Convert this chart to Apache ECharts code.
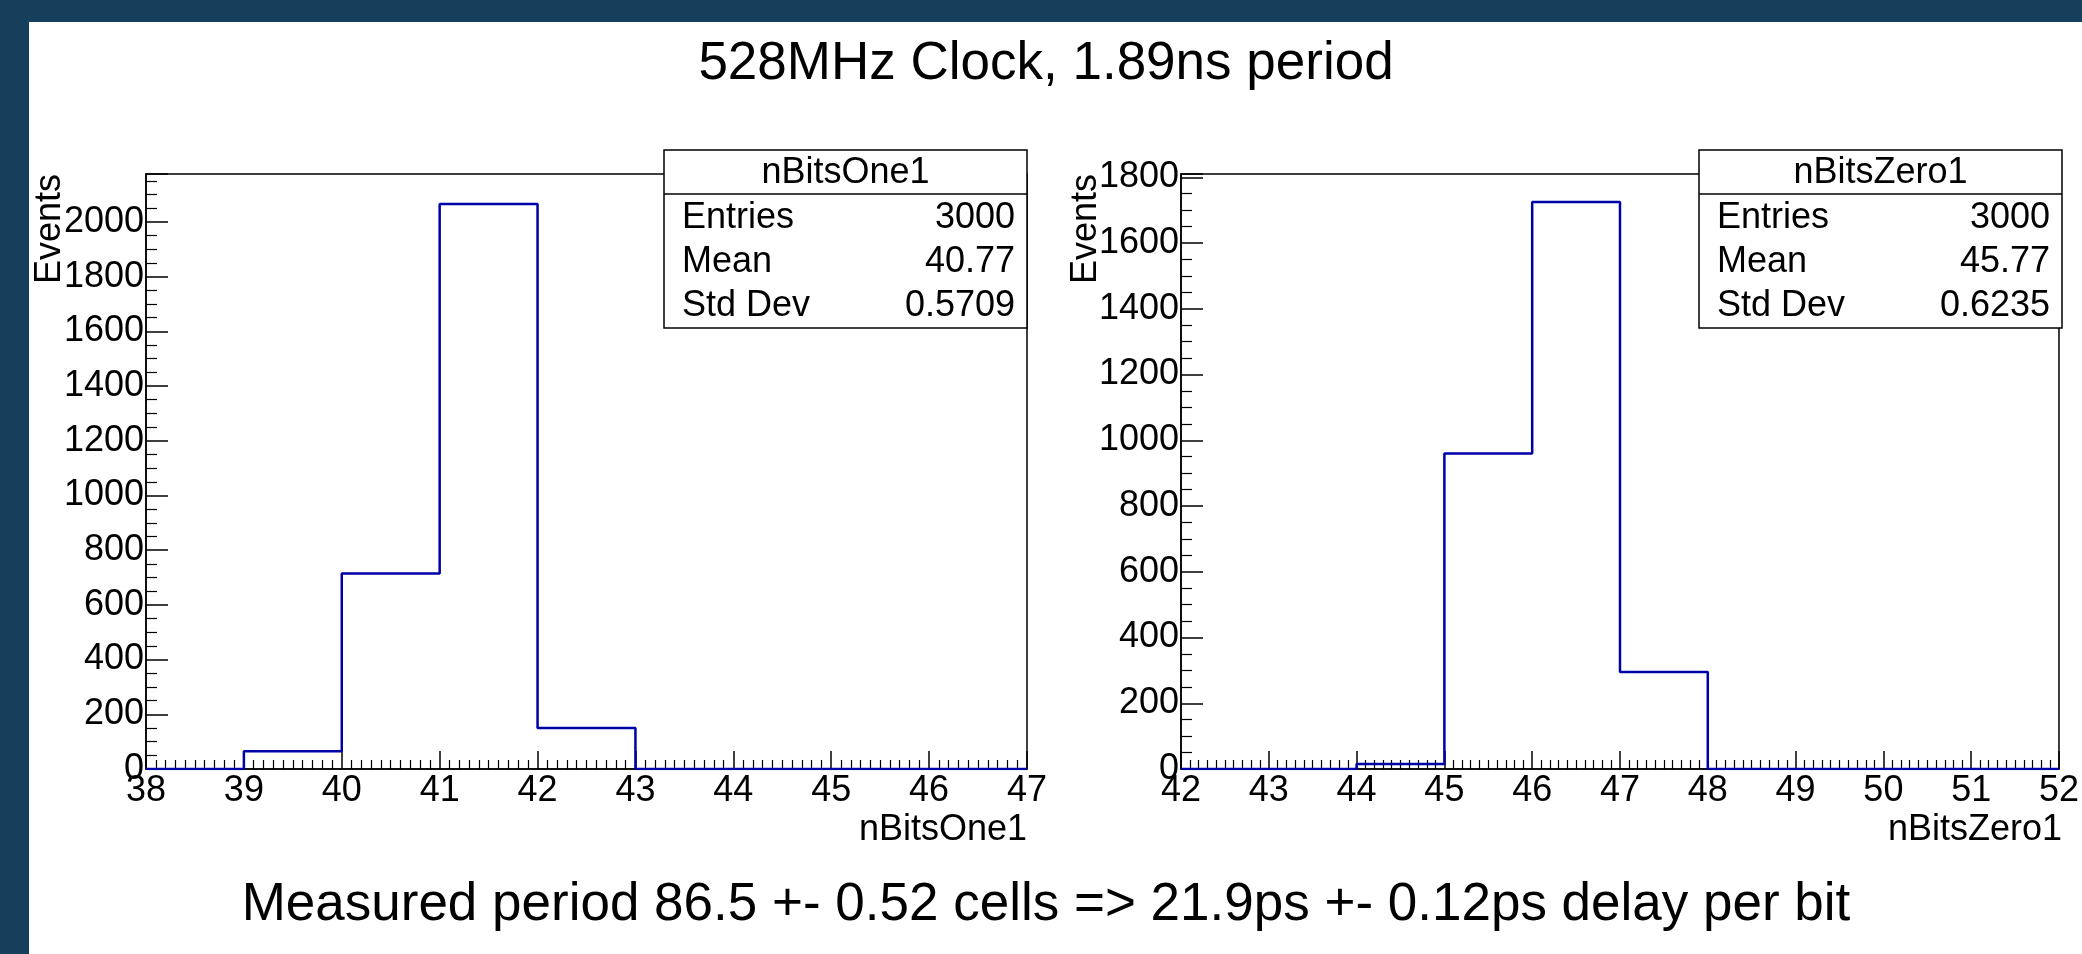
<!DOCTYPE html>
<html lang="en">
<head>
    <meta charset="UTF-8">
    <title>528MHz Clock</title>
    <script src="https://cdn.jsdelivr.net/npm/echarts@6/dist/echarts.min.js"></script>
    <style>
        html, body { margin: 0; padding: 0; background: #163f5c; }
    </style>
</head>
<body>
<div id="main" style="width: 2082px;height:954px;"></div>
<script type="text/javascript">
    // histogram bins (lower edge) and counts
    var binsOne = [39, 40, 41, 42];
    var countsOne = [65, 715, 2065, 150];
    var binsZero = [44, 45, 46, 47];
    var countsZero = [15, 960, 1725, 295];

    var statsOne = [['Entries', '3000'], ['Mean', '40.77'], ['Std Dev', '0.5709']];
    var statsZero = [['Entries', '3000'], ['Mean', '45.77'], ['Std Dev', '0.6235']];

    var FONT = 'Liberation Sans, Arial, sans-serif';
    var FS = 36;

    // step points for a histogram outline
    function steps(lo, bins, counts, hi) {
        var pts = [[lo, 0]];
        for (var i = 0; i < bins.length; i++) pts.push([bins[i], counts[i]]);
        pts.push([bins[bins.length - 1] + 1, 0]);
        pts.push([hi, 0]);
        return pts;
    }

    function xAx(idx, min, max) {
        return {
            gridIndex: idx, type: 'value', min: min, max: max, interval: 1,
            axisLine: {lineStyle: {color: '#000', width: 1.5}},
            axisTick: {inside: true, length: 18, lineStyle: {color: '#000', width: 1.5}},
            minorTick: {show: true, splitNumber: 10, length: 9, lineStyle: {color: '#000', width: 1.2}},
            splitLine: {show: false},
            axisLabel: {color: '#000', fontSize: FS, fontFamily: FONT, margin: 4,
                formatter: function (v) { return String(v); }}
        };
    }
    function yAx(idx, max) {
        return {
            gridIndex: idx, type: 'value', min: 0, max: max, interval: 200,
            axisLine: {lineStyle: {color: '#000', width: 1.5}},
            axisTick: {inside: true, length: 22, lineStyle: {color: '#000', width: 1.5}},
            minorTick: {show: true, splitNumber: 4, length: 11, lineStyle: {color: '#000', width: 1.2}},
            splitLine: {show: false},
            axisLabel: {color: '#000', fontSize: FS, fontFamily: FONT, margin: 2, showMaxLabel: false,
                formatter: function (v) { return String(v); }}
        };
    }

    function statBox(left, title, rows) {
        var w = 363, top = 150, g = [];
        g.push({type: 'rect', shape: {x: left, y: top, width: w, height: 178},
            style: {fill: '#fff', stroke: '#000', lineWidth: 1.5}, z: 10});
        g.push({type: 'line', shape: {x1: left, y1: 194, x2: left + w, y2: 194},
            style: {stroke: '#000', lineWidth: 1.5}, z: 11});
        g.push({type: 'text', x: left + w / 2, y: 173, z: 11,
            style: {text: title, fontSize: FS, fontFamily: FONT, fill: '#000', align: 'center', verticalAlign: 'middle'}});
        for (var i = 0; i < rows.length; i++) {
            var y = 218 + i * 44;
            g.push({type: 'text', x: left + 18, y: y, z: 11,
                style: {text: rows[i][0], fontSize: FS, fontFamily: FONT, fill: '#000', verticalAlign: 'middle'}});
            g.push({type: 'text', x: left + w - 12, y: y, z: 11,
                style: {text: rows[i][1], fontSize: FS, fontFamily: FONT, fill: '#000', align: 'right', verticalAlign: 'middle'}});
        }
        return g;
    }

    var graphics = [
        {type: 'rect', shape: {x: 29, y: 22, width: 2053, height: 932}, style: {fill: '#fff'}, z: -10},
        {type: 'text', x: 1046, y: 64, style: {text: '528MHz Clock, 1.89ns period', fontSize: 53, fontFamily: FONT,
            fill: '#000', align: 'center', verticalAlign: 'middle'}},
        {type: 'text', x: 1046, y: 905, style: {text: 'Measured period 86.5 +- 0.52 cells => 21.9ps +- 0.12ps delay per bit',
            fontSize: 53, fontFamily: FONT, fill: '#000', align: 'center', verticalAlign: 'middle'}},
        {type: 'text', x: 1027, y: 830, style: {text: 'nBitsOne1', fontSize: FS, fontFamily: FONT, fill: '#000',
            align: 'right', verticalAlign: 'middle'}},
        {type: 'text', x: 2062, y: 830, style: {text: 'nBitsZero1', fontSize: FS, fontFamily: FONT, fill: '#000',
            align: 'right', verticalAlign: 'middle'}},
        {type: 'text', x: 50, y: 174, rotation: Math.PI / 2, style: {text: 'Events', fontSize: FS, fontFamily: FONT,
            fill: '#000', align: 'right', verticalAlign: 'middle'}},
        {type: 'text', x: 1086, y: 174, rotation: Math.PI / 2, style: {text: 'Events', fontSize: FS, fontFamily: FONT,
            fill: '#000', align: 'right', verticalAlign: 'middle'}}
    ].concat(statBox(664, 'nBitsOne1', statsOne)).concat(statBox(1699, 'nBitsZero1', statsZero));

    var chart = echarts.init(document.getElementById('main'));
    chart.setOption({
        animation: false,
        backgroundColor: '#163f5c',
        grid: [
            {left: 146, top: 174, width: 881, height: 595, show: true, borderColor: '#000', borderWidth: 1.5, backgroundColor: 'transparent'},
            {left: 1181, top: 174, width: 881, height: 595, show: true, borderColor: '#000', borderWidth: 1.5, backgroundColor: 'transparent'}
        ],
        xAxis: [xAx(0, 38, 47), xAx(1, 42, 52)],
        yAxis: [yAx(0, 2175), yAx(1, 1810)],
        graphic: graphics,
        series: [
            {type: 'line', xAxisIndex: 0, yAxisIndex: 0, step: 'end', symbol: 'none',
                lineStyle: {color: '#0000a8', width: 2.5}, data: steps(38, binsOne, countsOne, 47)},
            {type: 'line', xAxisIndex: 1, yAxisIndex: 1, step: 'end', symbol: 'none',
                lineStyle: {color: '#0000a8', width: 2.5}, data: steps(42, binsZero, countsZero, 52)}
        ]
    });
</script>
</body>
</html>
